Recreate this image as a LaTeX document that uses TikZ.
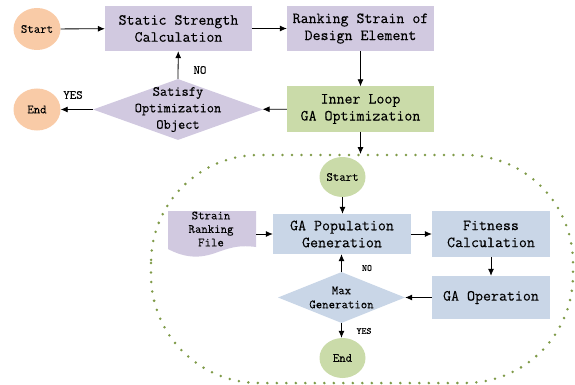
\documentclass[tikz,border=0pt]{standalone}
\usepackage{fontspec}
\setmonofont[FakeBold=0.2]{Latin Modern Mono}
\usetikzlibrary{shapes.geometric,arrows.meta}
\definecolor{peach}{HTML}{F9CBA7}
\definecolor{lav}{HTML}{D1C9E0}
\definecolor{grn}{HTML}{CADBA9}
\definecolor{lblue}{HTML}{C9D6E7}
\definecolor{olive}{HTML}{7F9A48}
\begin{document}
\begin{tikzpicture}[x=1pt,y=-1pt,
  every node/.style={font=\ttfamily, align=center, inner sep=0pt},
  oval/.style={ellipse, minimum width=47pt, minimum height=42pt, font=\ttfamily\fontsize{12.5}{13}\selectfont},
  bigtxt/.style={font=\ttfamily\fontsize{15.5}{17}\selectfont},
  boxx/.style={rectangle, minimum width=147pt, minimum height=45pt, bigtxt},
  ibox/.style={rectangle, fill=lblue, bigtxt},
  dia/.style={diamond, aspect=2.8},
  arr/.style={-{Latex[length=7pt,width=6pt]}, line width=0.8pt}]
\useasboundingbox (0,0) rectangle (575,385);
% dotted region
\draw[olive, line width=2.8pt, dash pattern=on 0pt off 9.5pt, line cap=round, rounded corners=108pt]
  (151,155) rectangle (573,383);
% top row
\node[oval, fill=peach] (start) at (37,29) {Start};
\node[boxx, fill=lav] (ssc) at (178.5,28.5) {Static Strength\\Calculation};
\node[boxx, fill=lav] (rsd) at (360.5,28.5) {Ranking Strain of\\Design Element};
\node[boxx, fill=grn] (ilg) at (360.5,109) {Inner Loop\\GA Optimization};
\node[dia, fill=lav, minimum width=170pt, minimum height=61pt] (sat) at (178,109.5) {};
\node[font=\ttfamily\fontsize{14}{16.5}\selectfont] (sattxt) at (178,109.5) {Satisfy\\Optimization\\Object};
\node[oval, fill=peach] (end) at (37,109.5) {End};
\draw[arr] (start) -- (ssc);
\draw[arr] (ssc) -- (rsd);
\draw[arr] (rsd) -- (ilg);
\draw[arr] (ilg) -- (sat);
\draw[arr] (sat) -- (end);
\draw[arr] (sat.north) -- (ssc);
\node[font=\ttfamily\fontsize{12.5}{13}\selectfont] (no1) at (200,70) {NO};
\node[font=\ttfamily\fontsize{12.5}{13}\selectfont] (yes1) at (73,95) {YES};
\coordinate (entry) at (360.5,154);
\draw[arr] (ilg) -- (entry);
% inner
\node[oval, fill=grn, minimum width=46pt, minimum height=40pt] (istart) at (342.5,177) {Start};
\node[ibox, minimum width=138pt, minimum height=40pt] (gap) at (342,234) {GA Population\\Generation};
\node[ibox, minimum width=118pt, minimum height=46pt] (fit) at (491,234) {Fitness\\Calculation};
\node[ibox, minimum width=118pt, minimum height=43pt] (gao) at (491,297.5) {GA Operation};
\node[dia, fill=lblue, minimum width=127pt, minimum height=51pt] (maxg) at (341.5,297.5) {};
\node[font=\ttfamily\fontsize{12.5}{14}\selectfont] (maxtxt) at (341.5,297.5) {Max\\Generation};
\node[oval, fill=grn, minimum width=46pt, minimum height=40pt] (iend) at (342.5,358) {End};
% document shape
\fill[lav] (168,211) -- (256,211) -- (256,247)
  .. controls (240,245) and (232,247) .. (218,252)
  .. controls (200,259) and (185,258) .. (168,249) -- cycle;
\node[font=\ttfamily\fontsize{12.5}{13.5}\selectfont] (srf) at (211,229) {Strain\\Ranking\\File};
\coordinate (srfr) at (256,234);
\draw[arr] (srfr) -- (gap);
\draw[arr] (istart) -- (gap.north -| istart);
\draw[arr] (gap) -- (fit);
\draw[arr] (fit) -- (gao);
\draw[arr] (gao) -- (maxg);
\draw[arr] (maxg.north) -- (gap.south -| maxg.north);
\draw[arr] (maxg.south) -- (iend.north -| maxg.south);
\node[font=\ttfamily\fontsize{9.5}{10}\selectfont] (no2) at (367,268) {NO};
\node[font=\ttfamily\fontsize{9.5}{10}\selectfont] (yes2) at (364,331) {YES};
\end{tikzpicture}
\end{document}
